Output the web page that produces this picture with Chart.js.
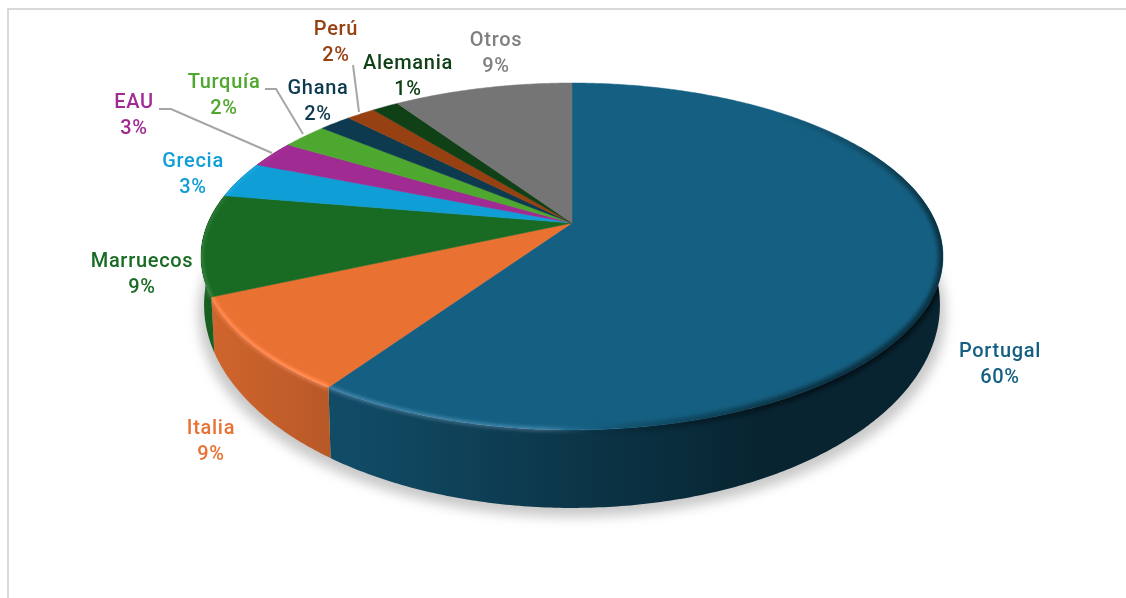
<!DOCTYPE html>
<html>
<head>
<meta charset="utf-8">
<script src="https://cdn.jsdelivr.net/npm/chart.js@4"></script>
<style>
    html, body { margin: 0; background: #fff; overflow: hidden; }
    #grafico { display: block; }
</style>
</head>
<body>
<canvas id="grafico" width="1126" height="598"></canvas>
<script>
const paises = ['Portugal', 'Italia', 'Marruecos', 'Grecia', 'EAU', 'Turquía', 'Ghana', 'Perú', 'Alemania', 'Otros'];
const valores = [59.5, 8.8, 9.4, 3.4, 2.5, 2.4, 1.7, 1.5, 1.4, 9.4];
const etiquetasPct = ['60%', '9%', '9%', '3%', '3%', '2%', '2%', '2%', '1%', '9%'];
const colores = ['#156082', '#E97132', '#196B24', '#0F9ED5', '#A02B93', '#4EA72E', '#0D3A4E', '#974012', '#0F4016', '#757575'];

// where each label sits (center of the two text lines)
const posEtiquetas = [[1000, 352], [211, 429], [142, 262], [193, 162], [134, 103], [224, 83], [318, 89], [336, 30], [408, 64], [496, 41]];
const lineasGuia = [
    [[159, 109], [171, 109], [272, 153]],
    [[265, 89], [276, 89], [303, 134]],
    [[353, 65], [359, 112]]
];

// perspective of the two disc faces
const caraSuperior = { cx: 572, cy: 223, a: 364, b: 167, p: 0.193 };
const caraInferior = { cx: 572, cy: 265.8, a: 361, b: 195.4, p: 0.193 };
const centroBorde = [572, 256];

// th = angle clockwise from the top
function proyectar(cara, th) {
    const x = Math.sin(th), y = Math.cos(th);
    const w = 1 + cara.p * y;
    return [cara.cx + cara.a * x / w, cara.cy - cara.b * y / w];
}

function muestras(th0, th1) {
    const n = Math.max(2, Math.ceil(Math.abs(th1 - th0) / 0.01));
    const out = [];
    for (let i = 0; i <= n; i++) out.push(th0 + (th1 - th0) * i / n);
    return out;
}

function trazarArco(ctx, cara, th0, th1, mover) {
    muestras(th0, th1).forEach((th, i) => {
        const p = proyectar(cara, th);
        if (i === 0 && mover) ctx.moveTo(p[0], p[1]);
        else ctx.lineTo(p[0], p[1]);
    });
}

function rgb(hex, f) {
    const n = parseInt(hex.slice(1), 16);
    return `rgb(${((n >> 16) & 255) * f},${((n >> 8) & 255) * f},${(n & 255) * f})`;
}

const sombraPared = [[200, 0.9], [330, 0.79], [400, 0.74], [530, 0.6], [700, 0.44], [760, 0.38], [945, 0.38]];

function gradientePared(ctx, color) {
    const g = ctx.createLinearGradient(200, 0, 945, 0);
    sombraPared.forEach(s => g.addColorStop((s[0] - 200) / 745, rgb(color, s[1])));
    return g;
}

function rutaPared(ctx, th0, th1, nueva) {
    if (nueva) ctx.beginPath();
    trazarArco(ctx, caraSuperior, th0, th1, true);
    trazarArco(ctx, caraInferior, th1, th0, false);
    ctx.closePath();
}

function rutaCara(ctx, arco) {
    ctx.moveTo(caraSuperior.cx, caraSuperior.cy);
    trazarArco(ctx, caraSuperior, arco.ini, arco.fin, false);
    ctx.closePath();
}

// conic gradient around the rim, angles in degrees from -60
function gradienteBorde(ctx, paradas) {
    const g = ctx.createConicGradient(-60 * Math.PI / 180, centroBorde[0], centroBorde[1]);
    paradas.forEach(s => g.addColorStop((s[0] + 60) / 360, s[1]));
    return g;
}

const pastel3d = {
    id: 'pastel3d',
    beforeDatasetsDraw(chart) {
        const ctx = chart.ctx;
        const arcos = chart.getDatasetMeta(0).data.map(a => ({
            ini: a.startAngle + Math.PI / 2,
            fin: a.endAngle + Math.PI / 2
        }));
        const frenteIni = 60 * Math.PI / 180, frenteFin = 300 * Math.PI / 180;

        // frame lines
        ctx.save();
        ctx.strokeStyle = '#d9d9d9';
        ctx.lineWidth = 2;
        ctx.beginPath();
        ctx.moveTo(8, 598);
        ctx.lineTo(8, 9);
        ctx.lineTo(1126, 9);
        ctx.stroke();

        // soft shadow under the disc
        ctx.filter = 'blur(6px)';
        ctx.fillStyle = '#c9c9c9';
        ctx.beginPath();
        muestras(0, Math.PI * 2).forEach(th => {
            const p = proyectar(caraInferior, th);
            ctx.lineTo(572 + (p[0] - 572) * 1.015, p[1] + 9);
        });
        ctx.fill();
        ctx.filter = 'none';

        // side wall, only the part facing the viewer
        arcos.forEach((arco, i) => {
            const ini = Math.max(arco.ini, frenteIni), fin = Math.min(arco.fin, frenteFin);
            if (fin <= ini) return;
            rutaPared(ctx, ini, fin, true);
            ctx.fillStyle = gradientePared(ctx, colores[i]);
            ctx.fill();
        });

        // top face
        arcos.forEach((arco, i) => {
            ctx.beginPath();
            rutaCara(ctx, arco);
            ctx.fillStyle = colores[i];
            ctx.strokeStyle = colores[i];
            ctx.lineWidth = 0.5;
            ctx.fill();
            ctx.stroke();
        });

        // rim: light on the left, dark on the right
        const bordeOscuro = gradienteBorde(ctx, [
            [-60, 'rgba(0,0,0,0)'], [-35, 'rgba(0,0,0,0)'], [-5, 'rgba(0,0,0,0.5)'], [25, 'rgba(0,0,0,0.5)'],
            [65, 'rgba(0,0,0,0.2)'], [85, 'rgba(0,0,0,0)'], [300, 'rgba(0,0,0,0)']
        ]);
        const bordeClaro = gradienteBorde(ctx, [
            [-60, 'rgba(38,32,36,0)'], [85, 'rgba(38,32,36,0)'], [100, 'rgba(38,32,36,1)'],
            [150, 'rgba(38,32,36,1)'], [185, 'rgba(38,32,36,0.5)'], [205, 'rgba(38,32,36,0)'], [300, 'rgba(38,32,36,0)']
        ]);
        arcos.forEach(arco => {
            ctx.save();
            ctx.beginPath();
            rutaCara(ctx, arco);
            const ini = Math.max(arco.ini, frenteIni), fin = Math.min(arco.fin, frenteFin);
            if (fin > ini) rutaPared(ctx, ini, fin, false);
            ctx.clip();
            ctx.filter = 'blur(2px)';
            ctx.beginPath();
            trazarArco(ctx, caraSuperior, arco.ini, arco.fin, true);
            ctx.lineWidth = 9;
            ctx.strokeStyle = bordeOscuro;
            ctx.stroke();
            ctx.filter = 'blur(1.5px)';
            ctx.globalCompositeOperation = 'lighter';
            ctx.lineWidth = 5;
            ctx.strokeStyle = bordeClaro;
            ctx.stroke();
            ctx.restore();
        });

        // leader lines
        ctx.strokeStyle = '#a6a6a6';
        ctx.lineWidth = 2;
        lineasGuia.forEach(linea => {
            ctx.beginPath();
            linea.forEach((p, i) => i ? ctx.lineTo(p[0], p[1]) : ctx.moveTo(p[0], p[1]));
            ctx.stroke();
        });

        // labels
        ctx.font = '500 20px Roboto';
        ctx.letterSpacing = '0.7px';
        ctx.textAlign = 'center';
        ctx.textBaseline = 'middle';
        paises.forEach((pais, i) => {
            ctx.fillStyle = colores[i] === '#757575' ? '#7f7f7f' : colores[i];
            ctx.fillText(pais, posEtiquetas[i][0], posEtiquetas[i][1]);
            ctx.fillText(etiquetasPct[i], posEtiquetas[i][0], posEtiquetas[i][1] + 26);
        });
        ctx.restore();
        return false;
    }
};

new Chart(document.getElementById('grafico').getContext('2d'), {
    type: 'pie',
    data: {
        labels: paises,
        datasets: [{ data: valores, backgroundColor: colores, borderWidth: 0 }]
    },
    options: {
        responsive: false,
        animation: false,
        plugins: { legend: { display: false }, tooltip: { enabled: false } }
    },
    plugins: [pastel3d]
});
</script>
</body>
</html>
